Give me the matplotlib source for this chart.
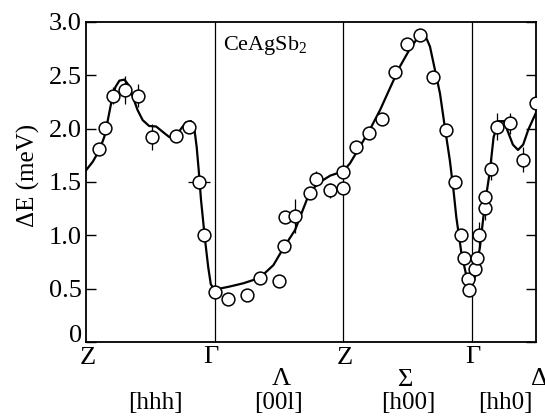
import numpy as np
import matplotlib
matplotlib.use('Agg')
import matplotlib.pyplot as plt
import matplotlib.transforms as mtransforms

plt.rcParams['font.family'] = ['Liberation Serif', 'DejaVu Serif']
plt.rcParams['mathtext.fontset'] = 'custom'
plt.rcParams['mathtext.rm'] = 'Liberation Serif'

# path coordinate: Z=0, Gamma=1, Z=2, Gamma=3, Delta=3.5
sym_pos = [0.0, 1.0, 2.0, 3.0, 3.5]

# measured points
q_pts = [0.10, 0.15, 0.21, 0.30, 0.40, 0.51, 0.70, 0.80, 0.88, 0.92,
         1.00, 1.10, 1.25, 1.35, 1.50, 1.54, 1.548, 1.626, 1.742, 1.79,
         1.90, 2.00, 2.00, 2.10, 2.20, 2.30, 2.40, 2.50, 2.60, 2.70,
         2.80, 2.87, 2.92, 2.94, 2.97, 2.98, 3.025, 3.04, 3.06, 3.10,
         3.10, 3.147, 3.20, 3.30, 3.40, 3.50]
e_pts = [1.81, 2.01, 2.31, 2.36, 2.31, 1.92, 1.93, 2.02, 1.50, 1.00,
         0.47, 0.40, 0.44, 0.60, 0.57, 0.90, 1.175, 1.18, 1.40, 1.53,
         1.42, 1.59, 1.44, 1.825, 1.96, 2.09, 2.53, 2.79, 2.88, 2.48,
         1.99, 1.50, 1.00, 0.79, 0.59, 0.49, 0.685, 0.79, 1.00, 1.26,
         1.36, 1.62, 2.02, 2.05, 1.71, 2.24]
e_err = [0, 0, 0.08, 0.13, 0.11, 0.12, 0, 0, 0, 0,
         0, 0, 0, 0, 0, 0, 0, 0.16, 0, 0.07,
         0.07, 0, 0, 0, 0, 0.05, 0, 0, 0, 0,
         0, 0, 0, 0, 0, 0, 0, 0, 0.12, 0.12,
         0, 0.10, 0.13, 0.10, 0.12, 0]
q_err = [0, 0, 0, 0, 0, 0, 0, 0, 0.085, 0,
         0, 0, 0, 0, 0, 0, 0, 0, 0, 0,
         0, 0, 0, 0, 0, 0, 0, 0, 0, 0,
         0, 0, 0, 0, 0, 0, 0, 0, 0, 0,
         0, 0, 0, 0, 0, 0]

# guide-to-the-eye curve (traced)
q_line = [0.000, 0.052, 0.104, 0.142, 0.169, 0.195, 0.228, 0.259, 0.298, 0.330,
          0.363, 0.400, 0.440, 0.490, 0.545, 0.596, 0.648, 0.700, 0.739, 0.778,
          0.817, 0.842, 0.860, 0.876, 0.894, 0.925, 0.950, 0.970, 1.000, 1.120,
          1.224, 1.350, 1.457, 1.540, 1.626, 1.690, 1.742, 1.820, 1.900, 2.000,
          2.053, 2.130, 2.220, 2.287, 2.364, 2.440, 2.520, 2.585, 2.636, 2.675,
          2.714, 2.753, 2.790, 2.830, 2.860, 2.880, 2.920, 2.960, 2.990, 3.020,
          3.064, 3.100, 3.142, 3.170, 3.210, 3.250, 3.285, 3.320, 3.360, 3.400,
          3.440, 3.500]
e_line = [1.61, 1.69, 1.80, 1.925, 2.08, 2.24, 2.39, 2.45, 2.46, 2.41,
          2.30, 2.175, 2.08, 2.025, 2.02, 1.97, 1.92, 1.93, 2.00, 2.06,
          2.07, 2.00, 1.83, 1.61, 1.33, 0.96, 0.70, 0.54, 0.49, 0.52,
          0.55, 0.60, 0.72, 0.89, 1.05, 1.25, 1.41, 1.50, 1.56, 1.60,
          1.675, 1.83, 2.02, 2.175, 2.38, 2.58, 2.75, 2.86, 2.88, 2.77,
          2.55, 2.33, 2.02, 1.70, 1.40, 1.17, 0.83, 0.61, 0.49, 0.58,
          0.89, 1.27, 1.61, 1.92, 2.07, 2.07, 1.96, 1.85, 1.80, 1.85,
          1.99, 2.15]

point_labels = ['Z', 'Γ', 'Λ', 'Z', 'Σ', 'Γ', 'Δ']
point_label_x = [0.01, 0.97, 1.52, 2.01, 2.49, 3.01, 3.53]
point_label_y = [-0.05, -0.047, -0.115, -0.05, -0.12, -0.047, -0.115]
dir_labels = ['[hhh]', '[00l]', '[h00]', '[hh0]']
dir_label_x = [0.54, 1.50, 2.51, 3.26]

fig = plt.figure(figsize=(5.45, 4.19), dpi=100)
ax = fig.add_axes([0.158, 0.184, 0.8255, 0.7635])

ax.plot(q_line, e_line, color='black', lw=1.6, zorder=2)
ax.errorbar(q_pts, e_pts, yerr=e_err, xerr=q_err, fmt='o', ms=9.2, mfc='white',
            mec='black', mew=1.1, ecolor='black', elinewidth=0.9, capsize=0, zorder=3)

for xv in sym_pos[1:4]:
    ax.axvline(xv, color='black', lw=0.9, zorder=1)

ax.set_xlim(0, 3.5)
ax.set_ylim(0, 3.0)
ax.set_xticks([])
ax.set_yticks([0, 0.5, 1.0, 1.5, 2.0, 2.5, 3.0])
ax.set_yticklabels(['0', '0.5', '1.0', '1.5', '2.0', '2.5', '3.0'])
ax.tick_params(axis='y', direction='in', length=7, width=1, labelsize=19, pad=3,
               right=True)
# the "0" sits a little higher, above the Z label
zero_lab = ax.get_yticklabels()[0]
zero_lab.set_transform(zero_lab.get_transform() +
                       mtransforms.ScaledTranslation(0, 0.08, fig.dpi_scale_trans))
ax.set_ylabel('ΔE (meV)', fontsize=18)
ax.yaxis.set_label_coords(-0.102, 0.52)
for sp in ax.spines.values():
    sp.set_linewidth(1.3)

ax.text(1.39, 2.78, 'CeAgSb$_\\mathregular{2}$', fontsize=16, ha='center', va='center')

trans = mtransforms.blended_transform_factory(ax.transData, ax.transAxes)
for lab, xv, yv in zip(point_labels, point_label_x, point_label_y):
    ax.text(xv, yv, lab, transform=trans, fontsize=19, ha='center', va='center',
            clip_on=False)
for lab, xv in zip(dir_labels, dir_label_x):
    ax.text(xv, -0.19, lab, transform=trans, fontsize=18, ha='center', va='center',
            clip_on=False)

fig.savefig('out.png', dpi=100)
